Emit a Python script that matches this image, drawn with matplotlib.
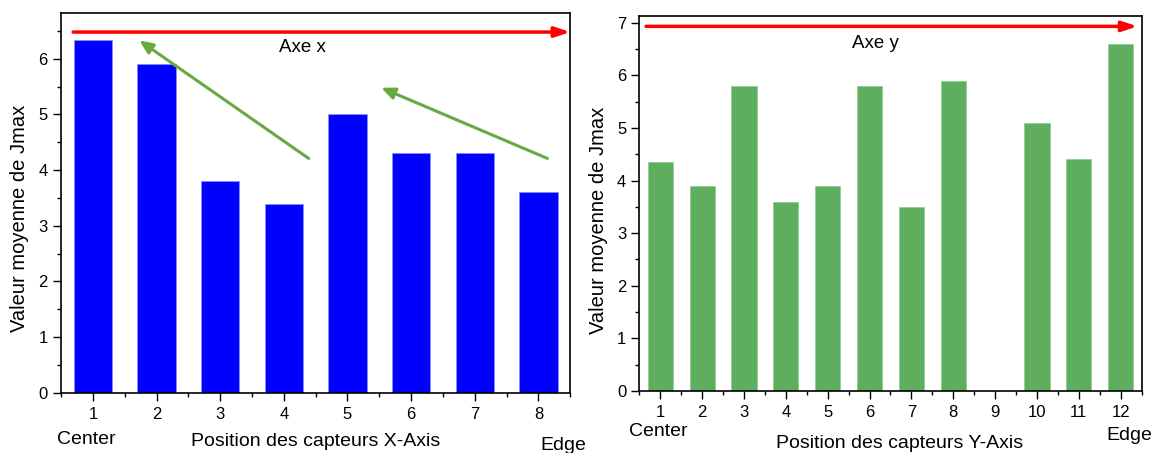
import matplotlib.pyplot as plt
from matplotlib.ticker import MultipleLocator

plt.rcParams["font.family"] = ["Liberation Sans", "DejaVu Sans"]

X_POSITIONS = [1, 2, 3, 4, 5, 6, 7, 8]
X_VALUES = [6.33, 5.9, 3.8, 3.4, 5.0, 4.3, 4.3, 3.6]

Y_POSITIONS = [1, 2, 3, 4, 5, 6, 7, 8, 9, 10, 11, 12]
Y_VALUES = [4.35, 3.9, 5.8, 3.6, 3.9, 5.8, 3.5, 5.9, 0.0, 5.1, 4.4, 6.6]

BLUE = "#0000ff"
GREEN_BAR = "#5fad5f"
GREEN_ARROW = "#6aa842"
RED = "#ff0000"


def style_axes(ax, xmax, ymax):
    ax.set_xlim(0.5, xmax + 0.5)
    ax.set_ylim(0, ymax)
    ax.xaxis.set_major_locator(MultipleLocator(1))
    ax.xaxis.set_minor_locator(MultipleLocator(0.5))
    ax.yaxis.set_major_locator(MultipleLocator(1))
    ax.yaxis.set_minor_locator(MultipleLocator(0.5))
    ax.tick_params(which="major", direction="out", length=6, width=1, labelsize=12)
    ax.tick_params(which="minor", direction="out", length=3, width=1)
    ax.tick_params(axis="x", pad=4)
    for spine in ax.spines.values():
        spine.set_linewidth(1.2)
    ax.set_ylabel("Valeur moyenne de Jmax", fontsize=14.5)


def red_arrow(ax, x0, x1, y):
    ax.annotate("", xy=(x1, y), xytext=(x0, y),
                arrowprops=dict(arrowstyle="-|>,head_length=0.9,head_width=0.3",
                                color=RED, lw=2.5, shrinkA=0, shrinkB=0),
                annotation_clip=False)


def green_arrow(ax, start, end):
    ax.annotate("", xy=end, xytext=start,
                arrowprops=dict(arrowstyle="-|>,head_length=0.8,head_width=0.35",
                                color=GREEN_ARROW, lw=2.2, shrinkA=0, shrinkB=0))


def fig_text(fig, x, y, label):
    fig.text(x / 1152, 1 - y / 453, label, fontsize=14, ha="center", va="center")


fig = plt.figure(figsize=(11.52, 4.53), dpi=100)
ax1 = fig.add_axes([0.053, 0.133, 0.442, 0.838])
ax2 = fig.add_axes([0.555, 0.137, 0.436, 0.828])

ax1.bar(X_POSITIONS, X_VALUES, width=0.6, color=BLUE, edgecolor="#8c8cff", linewidth=0.6)
style_axes(ax1, 8, 6.82)
ax1.yaxis.set_label_coords(-0.062, 0.46)
red_arrow(ax1, 0.69, 8.5, 6.48)
ax1.text(4.3, 6.2, "Axe x", fontsize=13.5, ha="center", va="center")
green_arrow(ax1, (4.39, 4.21), (1.73, 6.33))
green_arrow(ax1, (8.14, 4.21), (5.53, 5.48))
fig_text(fig, 86, 440, "Center")
fig_text(fig, 316, 441, "Position des capteurs X-Axis")
fig_text(fig, 563, 445, "Edge")

ax2.bar(Y_POSITIONS, Y_VALUES, width=0.6, color=GREEN_BAR, edgecolor="#8fcf8f", linewidth=0.6)
style_axes(ax2, 12, 7.13)
ax2.yaxis.set_label_coords(-0.062, 0.455)
red_arrow(ax2, 0.66, 12.4, 6.93)
ax2.text(6.15, 6.61, "Axe y", fontsize=13.5, ha="center", va="center")
fig_text(fig, 658, 431, "Center")
fig_text(fig, 900, 443, "Position des capteurs Y-Axis")
fig_text(fig, 1129, 435, "Edge")

fig.savefig("out.png", dpi=100)
